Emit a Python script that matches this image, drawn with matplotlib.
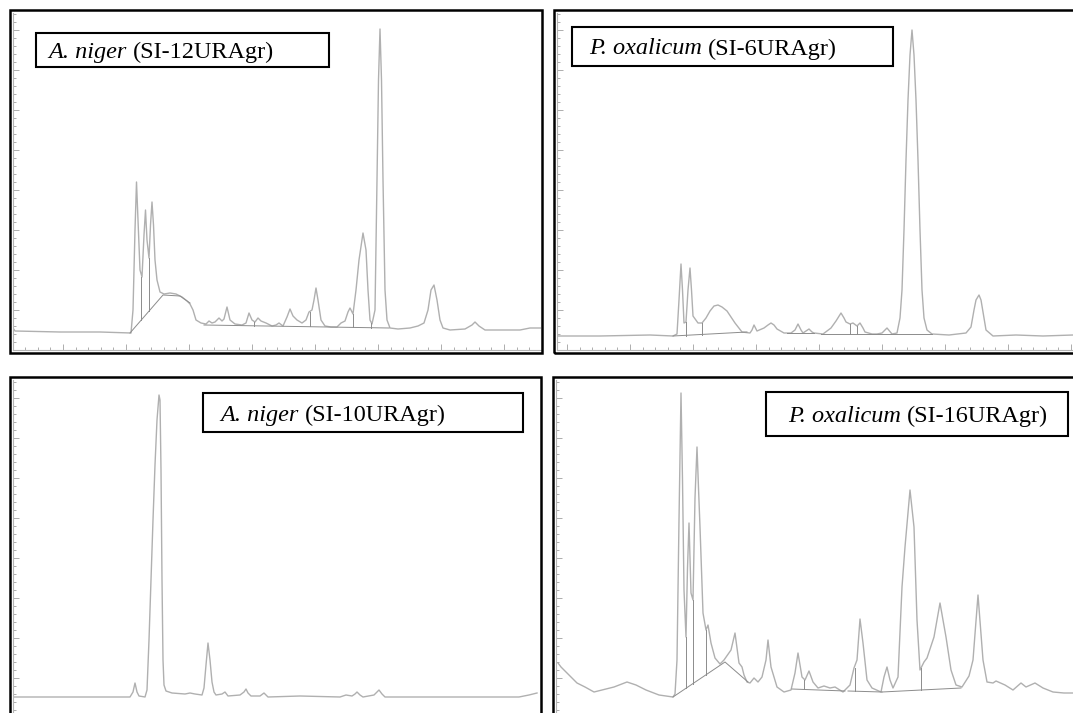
import matplotlib
matplotlib.use("Agg")
import matplotlib.pyplot as plt
from matplotlib.patches import Rectangle
from matplotlib.ticker import MultipleLocator

# ---------------- data (retention in arbitrary run units, detector response) ----------------
# Panel 1: A. niger (SI-12URAgr)
tl_time = [13, 15, 60, 100, 131, 133, 135, 136.5, 138, 140, 142, 144, 145.5, 147, 149, 150.5, 152, 153.5,
           155, 157, 160, 164, 170, 176, 182, 187, 190, 193, 196, 201, 206, 209, 212, 215, 219, 222, 224,
           227, 230, 235, 242, 246, 249, 252, 255, 258, 261, 266, 272, 276, 279, 283, 287, 290, 293, 297,
           302, 306, 309, 312, 314, 316, 318, 321, 325, 331, 337, 341, 345, 348, 350, 353, 356, 359, 363,
           366, 368, 370, 372, 375, 377, 378.5, 380, 381.5, 383, 385, 387, 390, 398, 410, 418, 424, 428,
           431, 434, 437, 440, 443, 450, 465, 472, 475, 479, 485, 500, 520, 530, 541]
tl_signal = [22, 19, 18, 18, 17, 40, 120, 168, 130, 80, 73, 115, 140, 110, 92, 125, 148, 125,
             90, 70, 58, 56, 57, 56, 53, 49, 46, 40, 30, 27, 26, 29, 27, 28, 32, 29, 31,
             43, 30, 26, 25, 27, 37, 30, 28, 32, 29, 27, 24, 25, 27, 24, 33, 41, 34, 30,
             27, 30, 38, 40, 50, 62, 50, 30, 24, 23, 23, 27, 29, 38, 42, 36, 60, 90, 117,
             100, 60, 30, 26, 40, 170, 270, 321, 270, 170, 60, 30, 22, 21, 22, 24, 27, 40,
             60, 65, 50, 30, 22, 20, 21, 25, 28, 24, 20, 20, 20, 22, 22]
tl_baselines = [[(130, 17), (163, 55), (180, 54), (190, 47)],
                [(204, 25), (389, 22)]]
tl_drops = [(141, 30, 73), (149, 39, 92), (254, 24, 28), (310, 24, 38), (353, 23, 36), (371, 22, 27)]

# Panel 2: P. oxalicum (SI-6URAgr)
tr_time = [558, 600, 650, 673, 677, 679, 681, 682.5, 684, 686, 688, 690, 691.5, 693, 698, 702, 706, 710,
           714, 718, 722, 727, 731, 735, 742, 750, 752, 754, 756, 757, 764, 768, 771, 774, 777, 784, 791,
           795, 798, 801, 803, 806, 809, 812, 814, 823, 831, 836, 841, 844, 846, 850, 853, 857, 860, 863,
           865, 872, 877, 882, 887, 892, 897, 900, 902, 904, 906, 908, 910, 912, 914, 916, 918, 920, 922,
           924, 927, 932, 949, 966, 971, 974, 976, 979, 981, 983, 986, 993, 1016, 1043, 1073]
tr_signal = [14, 14, 15, 14, 16, 50, 86, 60, 27, 28, 60, 82, 60, 34, 27, 27, 32, 39,
             44, 45, 43, 39, 33, 27, 18, 17, 20, 25, 21, 19, 22, 25, 27, 25, 21, 17, 17,
             20, 26, 20, 17, 19, 21, 18, 17, 16, 22, 29, 37, 32, 28, 26, 27, 24, 27, 22,
             18, 16, 16, 17, 22, 16, 17, 32, 60, 120, 190, 250, 295, 320, 295, 250, 190, 120, 60,
             32, 20, 16, 15, 17, 23, 40, 50, 55, 50, 38, 20, 14, 15, 14, 15]
tr_baselines = [[(673, 14), (747, 18)], [(787, 17), (814, 17)], [(821, 16), (932, 16)]]
tr_drops = [(686, 14, 28), (702, 15, 27), (850, 16, 26), (857, 16, 24)]

# Panel 3: A. niger (SI-10URAgr)
bl_time = [13, 50, 130, 133, 135, 137, 139, 145, 147, 149, 151, 153, 155, 157, 159, 160, 161, 162, 163,
           164, 166, 172, 185, 190, 195, 202, 204, 206, 208, 210, 212, 214, 216, 222, 225, 228, 240, 244,
           246, 248, 251, 260, 264, 268, 300, 340, 346, 352, 355, 357, 360, 363, 374, 377, 379, 382, 385,
           420, 519, 529, 537]
bl_signal = [21, 21, 21, 26, 35, 26, 22, 21, 28, 78, 138, 198, 253, 298, 323, 318, 248, 138, 58,
             33, 27, 25, 24, 25, 24, 23, 30, 53, 75, 58, 36, 26, 23, 24, 26, 22, 23, 26,
             29, 25, 22, 22, 25, 21, 22, 21, 23, 22, 24, 26, 23, 21, 23, 26, 28, 24, 21,
             21, 21, 23, 25]

# Panel 4: P. oxalicum (SI-16URAgr)
br_time = [558, 561, 569, 577, 585, 594, 602, 614, 627, 636, 646, 659, 673, 675, 677, 679, 681, 682.5,
           684, 686, 687.5, 689, 690, 691, 693, 695, 697, 698.5, 700, 703, 706, 708, 711, 715, 720, 724,
           731, 735, 739, 742, 744, 747, 750, 754, 758, 762, 766, 768, 771, 777, 784, 791, 795, 798, 802,
           805, 809, 813, 818, 824, 830, 835, 843, 850, 854, 857, 860, 863, 867, 872, 881, 884, 887, 890,
           893, 898, 902, 905, 910, 914, 917, 920, 924, 927, 934, 940, 946, 951, 956, 962, 969, 973, 978,
           983, 987, 993, 996, 1005, 1013, 1021, 1026, 1035, 1043, 1053, 1064, 1073]
br_signal = [55, 51, 43, 35, 31, 26, 28, 31, 36, 33, 28, 23, 21, 24, 58, 198, 325, 238,
             128, 81, 150, 195, 160, 125, 118, 220, 271, 230, 191, 105, 88, 93, 75, 60, 54, 58,
             68, 85, 55, 51, 43, 36, 35, 40, 36, 41, 58, 78, 51, 31, 26, 28, 45, 65, 41,
             38, 47, 36, 30, 32, 30, 31, 26, 33, 50, 58, 99, 75, 38, 30, 26, 41, 51, 38,
             30, 41, 131, 171, 228, 191, 98, 48, 56, 60, 81, 115, 81, 48, 33, 31, 42, 58, 123,
             58, 36, 35, 37, 33, 28, 35, 31, 35, 30, 26, 25, 25]
br_baselines = [[(673, 21), (725, 56), (748, 36)], [(792, 29), (845, 27)], [(848, 27), (882, 26)],
                [(882, 26), (961, 30)]]
br_drops = [(686, 30, 81), (693, 34, 118), (706, 43, 88), (804, 29, 38), (855, 27, 50), (921, 28, 50)]

species = ["A. niger", "P. oxalicum", "A. niger", "P. oxalicum"]
strains = ["(SI-12URAgr)", "(SI-6URAgr)", "(SI-10URAgr)", "(SI-16URAgr)"]

# ---------------- layout (pixels) ----------------
W, H = 1073, 713
fig = plt.figure(figsize=(W / 100, H / 100), dpi=100)
fig.patch.set_facecolor("white")


def fbox(l, t, r, b):
    return (l / W, 1 - b / H, (r - l) / W, (b - t) / H)


panels = [
    dict(frame=(10, 10, 542, 353), axes=(13, 13, 541, 350), t=tl_time, s=tl_signal, ytop=337,
         base=tl_baselines, drops=tl_drops, box=(36, 33, 329, 67), pad=12, xticks=True),
    dict(frame=(554, 10, 1090, 353), axes=(557, 13, 1085, 350), t=tr_time, s=tr_signal, ytop=337,
         base=tr_baselines, drops=tr_drops, box=(572, 27, 893, 66), pad=17, xticks=True),
    dict(frame=(10, 377, 541, 725), axes=(13, 380, 538, 718), t=bl_time, s=bl_signal, ytop=338,
         base=[], drops=[], box=(203, 393, 523, 432), pad=17, xticks=False),
    dict(frame=(553, 377, 1090, 725), axes=(556, 380, 1085, 718), t=br_time, s=br_signal, ytop=338,
         base=br_baselines, drops=br_drops, box=(766, 392, 1068, 436), pad=22, xticks=False),
]

trace_color = "#b0b0b0"
base_color = "#8c8c8c"
FS = 17.5

renderer = fig.canvas.get_renderer()

for i, p in enumerate(panels):
    l, t, r, b = p["axes"]
    ax = fig.add_axes(fbox(l, t, r, b))
    ax.set_facecolor("none")
    ax.plot(p["t"], p["s"], color=trace_color, lw=1.0, solid_joinstyle="round")
    for seg in p["base"]:
        xs, ys = zip(*seg)
        ax.plot(xs, ys, color=base_color, lw=0.7)
    for (x, y0, y1) in p["drops"]:
        ax.plot([x, x], [y0, y1], color=base_color, lw=0.7)
    ax.set_xlim(l, r)
    ax.set_ylim(0, p["ytop"])
    for side in ("top", "right"):
        ax.spines[side].set_visible(False)
    for side in ("left", "bottom"):
        ax.spines[side].set_color("#b5b5b5")
        ax.spines[side].set_linewidth(0.8)
    ax.xaxis.set_major_locator(MultipleLocator(63))
    ax.xaxis.set_minor_locator(MultipleLocator(12.6))
    ax.yaxis.set_major_locator(MultipleLocator(40))
    ax.yaxis.set_minor_locator(MultipleLocator(8))
    ax.tick_params(which="both", direction="in", colors="#a0a0a0", labelleft=False, labelbottom=False,
                   width=0.6, bottom=p["xticks"])
    ax.tick_params(which="major", length=4)
    ax.tick_params(which="minor", length=2.5)

    fl, ft, fr, fb = p["frame"]
    x0, y0, w, h = fbox(fl, ft, fr, fb)
    fig.add_artist(Rectangle((x0, y0), w, h, transform=fig.transFigure, fill=False,
                             ec="black", lw=1.8, zorder=10))

    bl_, bt, br_, bb = p["box"]
    x0, y0, w, h = fbox(bl_, bt, br_, bb)
    fig.add_artist(Rectangle((x0, y0), w, h, transform=fig.transFigure, fc="white",
                             ec="black", lw=1.5, zorder=11))
    ty = 1 - ((bt + bb) / 2) / H
    t1 = fig.text((bl_ + p["pad"]) / W, ty, species[i], fontsize=FS, family="Liberation Serif",
                  style="italic", ha="left", va="center_baseline", zorder=12)
    ext = t1.get_window_extent(renderer=renderer)
    space = FS * 100 / 72 * 0.25
    fig.text((ext.x1 + space) / W, ty, strains[i], fontsize=FS, family="Liberation Serif",
             ha="left", va="center_baseline", zorder=12)

fig.savefig("out.png", dpi=100, facecolor="white")
